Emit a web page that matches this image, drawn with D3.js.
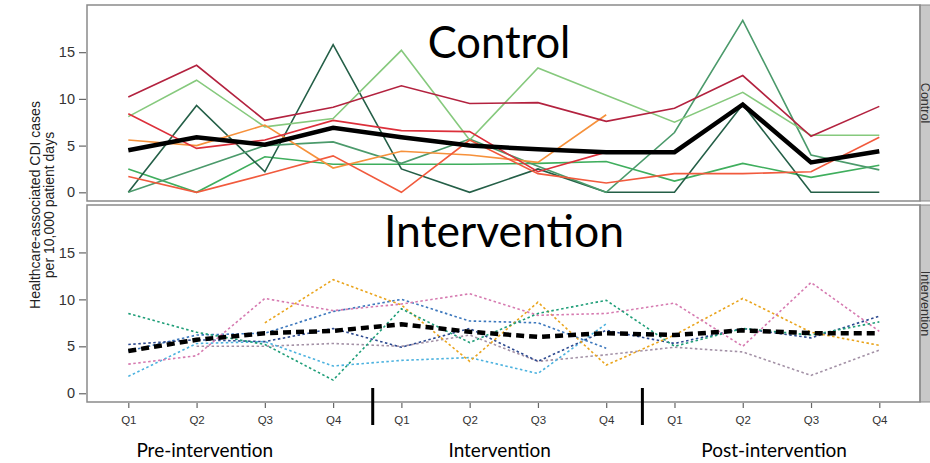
<!DOCTYPE html>
<html>
<head>
<meta charset="utf-8">
<script src="https://cdn.jsdelivr.net/npm/d3@7"></script>
<style>
  html, body { margin: 0; padding: 0; background: #fff; }
  svg { display: block; }
</style>
</head>
<body>
<svg id="chart" width="930" height="463"></svg>
<script>
// Quarter labels along the x axis (3 phases x 4 quarters)
const quarters = ["Q1","Q2","Q3","Q4","Q1","Q2","Q3","Q4","Q1","Q2","Q3","Q4"];
const phases = ["Pre-intervention", "Intervention", "Post-intervention"];
const yTicks = [0, 5, 10, 15];
// Phase separators sit between Q4 and the next Q1 (in quarter-index units)
const phaseBreaks = [3.58, 7.53];
// Phase label centres (in quarter-index units)
const phaseCenters = [1.12, 5.44, 9.46];

// Control hospitals: CDI cases per 10,000 patient days
const controlCrimson   = [10.2, 13.6, 7.7, 9.1, 11.4, 9.5, 9.6, 7.6, 9.0, 12.5, 6.0, 9.2];
const controlRed       = [8.4, 4.7, 5.6, 7.7, 6.6, 6.5, 2.2, 4.3, null, null, null, null];
const controlOrangeRed = [1.7, 0, 1.9, 3.9, 0, 5.6, 2.0, 1.0, 2.0, 2.0, 2.2, 5.9];
const controlOrange    = [5.6, 5.0, 7.2, 2.6, 4.4, 4.0, 3.2, 8.3, null, null, null, null];
const controlPaleGreen = [8.1, 12.0, 7.0, 7.9, 15.2, 5.6, 13.3, 10.4, 7.5, 10.7, 6.1, 6.1];
const controlMidGreen  = [0, 2.5, 5.0, 5.4, 3.1, 5.7, 2.8, 0, 6.4, 18.4, 4.0, 2.4];
const controlDarkGreen = [0, 9.3, 2.2, 15.8, 2.5, 0, 2.5, 0, 0, 9.4, 0, 0];
const controlGreen     = [2.5, 0, 3.8, 3.0, 3.0, 3.0, 3.1, 3.3, 1.2, 3.1, 1.6, 2.9];
const controlMean      = [4.5, 5.9, 5.1, 6.9, 5.9, 5.0, 4.6, 4.3, 4.3, 9.4, 3.2, 4.4];

// Intervention hospitals
const intTeal  = [8.5, 6.5, 5.2, 1.4, 9.0, 5.4, 8.5, 9.9, 5.0, 6.9, 6.2, 7.6];
const intPink  = [3.1, 4.0, 10.1, 8.8, 9.5, 10.6, 8.3, 8.5, 9.6, 5.0, 11.8, 6.6];
const intGold  = [null, null, 7.5, 12.1, 9.4, 3.4, 9.7, 3.0, 6.2, 10.1, 6.5, 5.1];
const intNavy  = [5.2, 5.7, 5.5, 6.9, 4.9, 6.9, 3.4, 6.7, 5.3, 6.9, 5.9, 8.2];
const intBlue  = [4.5, 6.2, 6.4, 8.7, 10.0, 7.7, 7.5, 4.8, null, null, null, null];
const intSky   = [1.8, 5.3, 5.5, 2.9, 3.5, 3.8, 2.1, 7.4, null, null, null, null];
const intGrey  = [null, 5.0, 5.0, 5.3, 5.0, 6.2, 3.4, 4.1, 4.9, 4.4, 1.9, 4.6];
const intMean  = [4.5, 5.7, 6.4, 6.65, 7.35, 6.55, 6.0, 6.4, 6.2, 6.7, 6.4, 6.4];

const controlSeries = [
  { values: controlGreen,     color: "#3fae5d" },
  { values: controlDarkGreen, color: "#245f47" },
  { values: controlMidGreen,  color: "#4b9a6b" },
  { values: controlPaleGreen, color: "#86c97d" },
  { values: controlOrange,    color: "#f6913b" },
  { values: controlOrangeRed, color: "#f15a3d" },
  { values: controlRed,       color: "#dc2f3a" },
  { values: controlCrimson,   color: "#b3223f" }
];
const interventionSeries = [
  { values: intGrey, color: "#a391a6" },
  { values: intSky,  color: "#4cb2df" },
  { values: intBlue, color: "#3d78bd" },
  { values: intNavy, color: "#2d4a90" },
  { values: intGold, color: "#eaa51e" },
  { values: intPink, color: "#d67ab0" },
  { values: intTeal, color: "#1f9e78" }
];

const svg = d3.select("#chart");
const W = 930, H = 463;
svg.append("rect").attr("width", W).attr("height", H).attr("fill", "#fff");

const left = 87, right = 920, stripW = 12;
const panels = [
  { name: "Control",      top: 5,   bottom: 201, series: controlSeries,      mean: controlMean, dashed: false,
    titleX: 499, titleY: 58, titleSize: 43.5 },
  { name: "Intervention", top: 205, bottom: 402, series: interventionSeries, mean: intMean,     dashed: true,
    titleX: 504, titleY: 247, titleSize: 44.5 }
];

const x = d3.scaleLinear().domain([0, 11]).range([128.3, 879.3]);

panels.forEach(p => {
  const y = d3.scaleLinear().domain([-0.93, 20.05]).range([p.bottom, p.top]);
  const g = svg.append("g");

  // strip on the right
  g.append("rect")
    .attr("x", right).attr("y", p.top)
    .attr("width", stripW).attr("height", p.bottom - p.top)
    .attr("fill", "#c8c8c8").attr("stroke", "#8a8a8a").attr("stroke-width", 1);
  g.append("text")
    .attr("transform", `translate(${right + 0.5},${(p.top + p.bottom) / 2}) rotate(90)`)
    .attr("text-anchor", "middle")
    .attr("font-family", "Liberation Sans, Arial, sans-serif")
    .attr("font-size", 12.5)
    .attr("fill", "#333")
    .text(p.name);

  // y axis
  const yAxis = d3.axisLeft(y).tickValues(yTicks).tickSize(7).tickPadding(4);
  const ya = g.append("g").attr("transform", `translate(${left - 1},0)`).call(yAxis);
  ya.select(".domain").remove();
  ya.selectAll(".tick line").attr("stroke", "#666").attr("stroke-width", 1.2);
  ya.selectAll(".tick text")
    .attr("font-family", "Liberation Sans, Arial, sans-serif")
    .attr("font-size", 14.5).attr("fill", "#333");

  // big panel title
  g.append("text")
    .attr("x", p.titleX).attr("y", p.titleY)
    .attr("text-anchor", "middle")
    .attr("font-family", "Lato, sans-serif")
    .attr("font-size", p.titleSize)
    .attr("fill", "#000")
    .text(p.name);

  const line = d3.line()
    .defined(d => d != null)
    .x((d, i) => x(i))
    .y(d => y(d));

  p.series.forEach(s => {
    g.append("path")
      .attr("d", line(s.values))
      .attr("fill", "none")
      .attr("stroke", s.color)
      .attr("stroke-width", 1.6)
      .attr("stroke-linejoin", "miter")
      .attr("stroke-dasharray", p.dashed ? "2.5,2.5" : null);
  });

  g.append("path")
    .attr("d", line(p.mean))
    .attr("fill", "none")
    .attr("stroke", "#000")
    .attr("stroke-width", 4.5)
    .attr("stroke-dasharray", p.dashed ? "8,5" : null);

  // panel frame
  g.append("rect")
    .attr("x", left).attr("y", p.top)
    .attr("width", right - left).attr("height", p.bottom - p.top)
    .attr("fill", "none").attr("stroke", "#8a8a8a").attr("stroke-width", 1.5);
});

// x axis below the lower panel
const xAxis = d3.axisBottom(x).tickValues(d3.range(12))
  .tickFormat(i => quarters[i]).tickSize(5).tickPadding(8);
const xa = svg.append("g").attr("transform", `translate(0,${panels[1].bottom + 1})`).call(xAxis);
xa.select(".domain").remove();
xa.selectAll(".tick line").attr("stroke", "#666").attr("stroke-width", 1.2);
xa.selectAll(".tick text")
  .attr("font-family", "Liberation Sans, Arial, sans-serif")
  .attr("font-size", 11.5).attr("fill", "#333");

// phase separators
svg.selectAll(".sep").data(phaseBreaks).enter().append("line")
  .attr("x1", d => x(d)).attr("x2", d => x(d))
  .attr("y1", 388).attr("y2", 425)
  .attr("stroke", "#000").attr("stroke-width", 3);

// phase labels
svg.selectAll(".phase").data(phases).enter().append("text")
  .attr("x", (d, i) => x(phaseCenters[i]))
  .attr("y", 457)
  .attr("text-anchor", "middle")
  .attr("font-family", "Lato, sans-serif")
  .attr("font-size", 19)
  .attr("fill", "#000")
  .text(d => d);

// y axis title
const yt = svg.append("text")
  .attr("transform", "translate(36,205) rotate(-90)")
  .attr("text-anchor", "middle")
  .attr("font-family", "Liberation Sans, Arial, sans-serif")
  .attr("font-size", 14)
  .attr("fill", "#222");
yt.append("tspan").attr("x", 0).attr("dy", "0.3em").text("Healthcare-associated CDI cases");
yt.append("tspan").attr("x", 0).attr("dy", "1.0em").text("per 10,000 patient days");
</script>
</body>
</html>
